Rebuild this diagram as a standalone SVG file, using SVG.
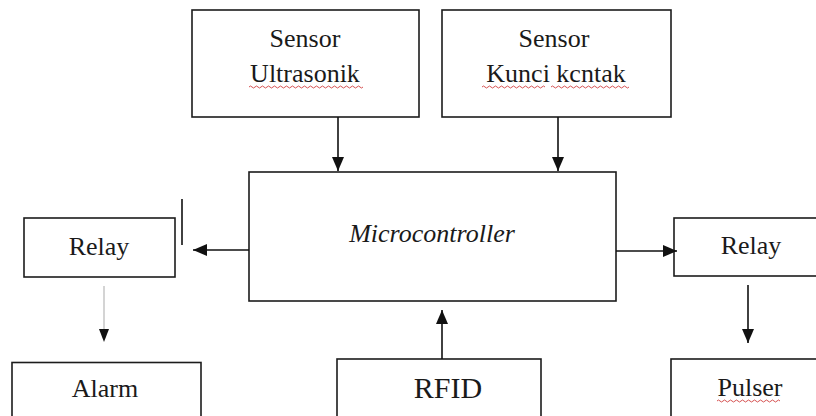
<svg xmlns="http://www.w3.org/2000/svg" width="816" height="416" viewBox="0 0 816 416">
<defs>
<style>
.box{fill:#fff;stroke:#1c1c1c;stroke-width:1.6}
.t{font-family:"Liberation Serif","Times New Roman",serif;font-size:26px;fill:#1a1a1a;text-anchor:middle}
.ln{stroke:#111;stroke-width:1.6;fill:none}
.lg{stroke:#b8b8b8;stroke-width:1.2;fill:none}
.wavy{stroke:#d04040;stroke-width:0.9;fill:none}
</style>
<marker id="ah" viewBox="0 0 14 12" refX="14" refY="6" markerWidth="14" markerHeight="12" markerUnits="userSpaceOnUse" orient="auto">
<path d="M0,0 L14,6 L0,12 Z" fill="#111"/>
</marker>
</defs>
<rect width="816" height="416" fill="#fff"/>

<g id="sensor-ultrasonik">
<rect class="box" x="192" y="10" width="227" height="107"/>
<text class="t" x="305" y="47">Sensor</text>
<text class="t" x="305" y="82">Ultrasonik</text>
<path class="wavy" d="M249,87 q1.5,-2 3,0 t3,0 t3,0 t3,0 t3,0 t3,0 t3,0 t3,0 t3,0 t3,0 t3,0 t3,0 t3,0 t3,0 t3,0 t3,0 t3,0 t3,0 t3,0 t3,0 t3,0 t3,0 t3,0 t3,0 t3,0 t3,0 t3,0 t3,0 t3,0 t3,0 t3,0 t3,0 t3,0 t3,0 t3,0 t3,0 t3,0 t3,0"/>
</g>

<g id="sensor-kunci-kontak">
<rect class="box" x="442" y="10" width="229" height="107"/>
<text class="t" x="554" y="47">Sensor</text>
<text class="t" x="556" y="82">Kunci kcntak</text>
<path class="wavy" d="M482,87 q1.5,-2 3,0 t3,0 t3,0 t3,0 t3,0 t3,0 t3,0 t3,0 t3,0 t3,0 t3,0 t3,0 t3,0 t3,0 t3,0 t3,0 t3,0 t3,0 t3,0 t3,0 t3,0"/>
<path class="wavy" d="M551,87 q1.5,-2 3,0 t3,0 t3,0 t3,0 t3,0 t3,0 t3,0 t3,0 t3,0 t3,0 t3,0 t3,0 t3,0 t3,0 t3,0 t3,0 t3,0 t3,0 t3,0 t3,0 t3,0 t3,0 t3,0 t3,0 t3,0 t3,0"/>
</g>

<g id="microcontroller">
<rect class="box" x="249" y="172" width="367" height="129"/>
<text class="t" x="432" y="242" font-style="italic">Microcontroller</text>
</g>

<g id="relay-left">
<rect class="box" x="24" y="218" width="151" height="59"/>
<text class="t" x="99" y="254.5">Relay</text>
</g>

<g id="relay-right">
<rect class="box" x="674" y="218" width="150" height="58"/>
<text class="t" x="751" y="254">Relay</text>
</g>

<g id="alarm">
<rect class="box" x="12" y="362.5" width="189" height="60"/>
<text class="t" x="105" y="397">Alarm</text>
</g>

<g id="rfid">
<rect class="box" x="337" y="359" width="204" height="64"/>
<text class="t" x="448" y="398" font-size="30" style="font-size:30px">RFID</text>
</g>

<g id="pulser">
<rect class="box" x="671" y="359" width="153" height="64"/>
<text class="t" x="750" y="396">Pulser</text>
<path class="wavy" d="M717,401 q1.5,-2 3,0 t3,0 t3,0 t3,0 t3,0 t3,0 t3,0 t3,0 t3,0 t3,0 t3,0 t3,0 t3,0 t3,0 t3,0 t3,0 t3,0 t3,0 t3,0 t3,0 t3,0"/>
</g>

<g id="connectors">
<line class="ln" x1="338" y1="117" x2="338" y2="171" marker-end="url(#ah)"/>
<line class="ln" x1="558" y1="117" x2="558" y2="171" marker-end="url(#ah)"/>
<line class="ln" x1="249" y1="250" x2="193" y2="250" marker-end="url(#ah)"/>
<line class="ln" x1="616" y1="251" x2="677" y2="251" marker-end="url(#ah)"/>
<line class="ln" x1="442" y1="359" x2="442" y2="310" marker-end="url(#ah)"/>
<line class="lg" x1="104" y1="286" x2="104" y2="330"/>
<path d="M99,329 L109,329 L104,342 Z" fill="#111"/>
<line class="ln" x1="748" y1="285" x2="748" y2="343" marker-end="url(#ah)"/>
<line class="ln" x1="182" y1="199" x2="182" y2="245"/>
</g>
</svg>
